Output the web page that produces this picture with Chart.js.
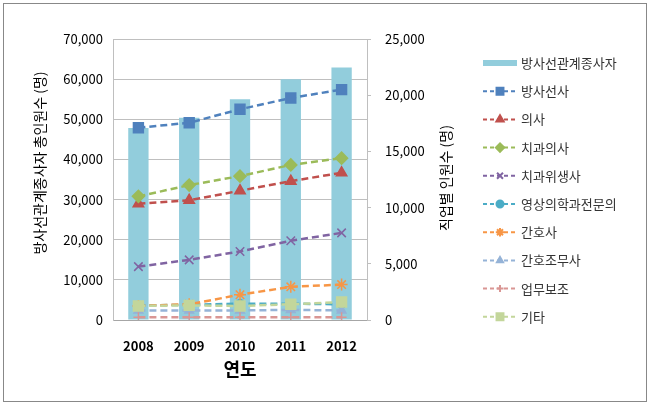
<!DOCTYPE html>
<html>
<head>
<meta charset="utf-8">
<script src="https://cdn.jsdelivr.net/npm/chart.js@4.4.0/dist/chart.umd.min.js"></script>
<style>
  body { margin: 0; background: #fff; }
  #wrap { width: 650px; height: 405px; }
</style>
</head>
<body>
<div id="wrap"><canvas id="myChart" width="650" height="405"></canvas></div>
<script>
// data
const years = ['2008', '2009', '2010', '2011', '2012'];
const totalWorkers = [47800, 50400, 55000, 60000, 62900];   // bars, left axis

const radiographer = [17100, 17550, 18750, 19750, 20500];
const doctor = [10350, 10650, 11500, 12350, 13100];
const dentist = [11000, 12000, 12800, 13800, 14400];
const hygienist = [4750, 5350, 6100, 7050, 7750];
const radiologist = [1300, 1350, 1450, 1450, 1400];
const nurse = [1250, 1400, 2250, 2950, 3150];
const nurseAide = [850, 850, 850, 900, 850];
const assistant = [250, 250, 250, 250, 250];
const others = [1250, 1300, 1250, 1400, 1600];

const leftTicks = [0, 10000, 20000, 30000, 40000, 50000, 60000, 70000];
const rightTicks = [0, 5000, 10000, 15000, 20000, 25000];

const FONT = "'Noto Sans CJK KR', 'Noto Sans', sans-serif";

let lineCount = 0;
function lineSet(label, values, color, style, radius) {
  lineCount++;
  return {
    type: 'line',
    label: label,
    data: values,
    yAxisID: 'y1',
    borderColor: color,
    backgroundColor: color,
    borderWidth: 2.5,
    borderDash: [7, 4],
    pointStyle: style,
    pointRadius: radius,
    pointBorderColor: color,
    pointBackgroundColor: color,
    pointBorderWidth: 1.5,
    order: 50 - lineCount   // later series sit on top, like the original
  };
}

const datasets = [
  {
    type: 'bar',
    label: '방사선관계종사자',
    data: totalWorkers,
    yAxisID: 'y',
    backgroundColor: '#92CDDC',
    barPercentage: 0.4,
    categoryPercentage: 1,
    order: 100
  },
  lineSet('방사선사', radiographer, '#4F81BD', 'rect', 7),
  lineSet('의사', doctor, '#C0504D', 'triangle', 6),
  lineSet('치과의사', dentist, '#9BBB59', 'rectRot', 6),
  lineSet('치과위생사', hygienist, '#8064A2', 'crossRot', 6),
  lineSet('영상의학과전문의', radiologist, '#4BACC6', 'circle', 4),
  lineSet('간호사', nurse, '#F79646', 'star', 6),
  lineSet('간호조무사', nurseAide, '#95B3D7', 'triangle', 5),
  lineSet('업무보조', assistant, '#D99694', 'cross', 5),
  lineSet('기타', others, '#C3D69B', 'rect', 7)
];

function vText(ctx, text, x, y) {
  ctx.save();
  ctx.translate(x, y);
  ctx.rotate(-Math.PI / 2);
  ctx.fillStyle = '#000';
  ctx.font = '14px ' + FONT;
  ctx.textAlign = 'center';
  ctx.textBaseline = 'middle';
  ctx.fillText(text, 0, 0);
  ctx.restore();
}

// legend, axis titles and frame drawn by hand
const extras = {
  id: 'extras',
  beforeDraw(chart) {
    const ctx = chart.ctx;
    ctx.save();
    ctx.fillStyle = '#fff';
    ctx.fillRect(0, 0, chart.width, chart.height);
    ctx.restore();
  },
  afterDraw(chart) {
    const ctx = chart.ctx;
    ctx.save();
    ctx.strokeStyle = '#888';
    ctx.lineWidth = 1;
    ctx.strokeRect(3.5, 3.5, 643, 398);
    ctx.restore();

    // both y titles read bottom to top
    vText(ctx, '방사선관계종사자 총인원수 (명)', 40, 163);
    vText(ctx, '직업별 인원수 (명)', 446, 178);

    // legend
    const x0 = 483, x1 = 517, y0 = 63, row = 28.2;
    chart.data.datasets.forEach((ds, i) => {
      const y = y0 + i * row;
      ctx.save();
      if (ds.type === 'bar') {
        ctx.fillStyle = ds.backgroundColor;
        ctx.fillRect(x0, y - 3, x1 - x0, 6);
      } else {
        ctx.strokeStyle = ds.borderColor;
        ctx.lineWidth = 2;
        ctx.setLineDash([4, 3]);
        ctx.beginPath();
        ctx.moveTo(x0, y);
        ctx.lineTo(x1, y);
        ctx.stroke();
        ctx.setLineDash([]);
        ctx.fillStyle = ds.pointBackgroundColor;
        ctx.strokeStyle = ds.pointBorderColor;
        Chart.helpers.drawPoint(ctx, {
          pointStyle: ds.pointStyle,
          radius: Math.max(ds.pointRadius, 5) * 0.7,
          rotation: 0,
          borderWidth: 1.2
        }, (x0 + x1) / 2, y);
      }
      ctx.fillStyle = '#333';
      ctx.font = '13px ' + FONT;
      ctx.textAlign = 'left';
      ctx.textBaseline = 'middle';
      ctx.fillText(ds.label, x1 + 4, y);
      ctx.restore();
    });
  }
};

const config = {
  data: { labels: years, datasets: datasets },
  options: {
    responsive: false,
    animation: false,
    layout: { padding: { left: 5, right: 170, top: 39, bottom: 5 } },
    plugins: {
      legend: { display: false },
      tooltip: { enabled: false }
    },
    scales: {
      x: {
        grid: { display: false },
        border: { color: '#A6A6A6' },
        ticks: { color: '#000', padding: 10, font: { family: FONT, size: 13, weight: 'bold' } },
        title: {
          display: true,
          text: '연도',
          color: '#000',
          font: { family: FONT, size: 18, weight: 'bold' },
          padding: { top: 0, bottom: 20 }
        },
        afterFit(scale) { scale.height = 80; }
      },
      y: {
        position: 'left',
        min: 0,
        max: 70000,
        afterBuildTicks(scale) { scale.ticks = leftTicks.map(v => ({ value: v })); },
        grid: { color: '#BFBFBF', tickLength: 0 },
        border: { color: '#BFBFBF' },
        ticks: {
          color: '#000',
          padding: 10,
          font: { family: FONT, size: 13 },
          callback: v => v.toLocaleString('en-US')
        },
        afterFit(scale) { scale.width = 108; }
      },
      y1: {
        position: 'right',
        min: 0,
        max: 25000,
        afterBuildTicks(scale) { scale.ticks = rightTicks.map(v => ({ value: v })); },
        grid: { drawOnChartArea: false, color: '#BFBFBF', tickLength: 4 },
        border: { color: '#BFBFBF' },
        ticks: {
          color: '#000',
          padding: 14,
          font: { family: FONT, size: 13 },
          callback: v => v.toLocaleString('en-US')
        },
        afterFit(scale) { scale.width = 113; }
      }
    }
  },
  plugins: [extras]
};

var myChart = new Chart(document.getElementById('myChart'), config);
</script>
</body>
</html>
